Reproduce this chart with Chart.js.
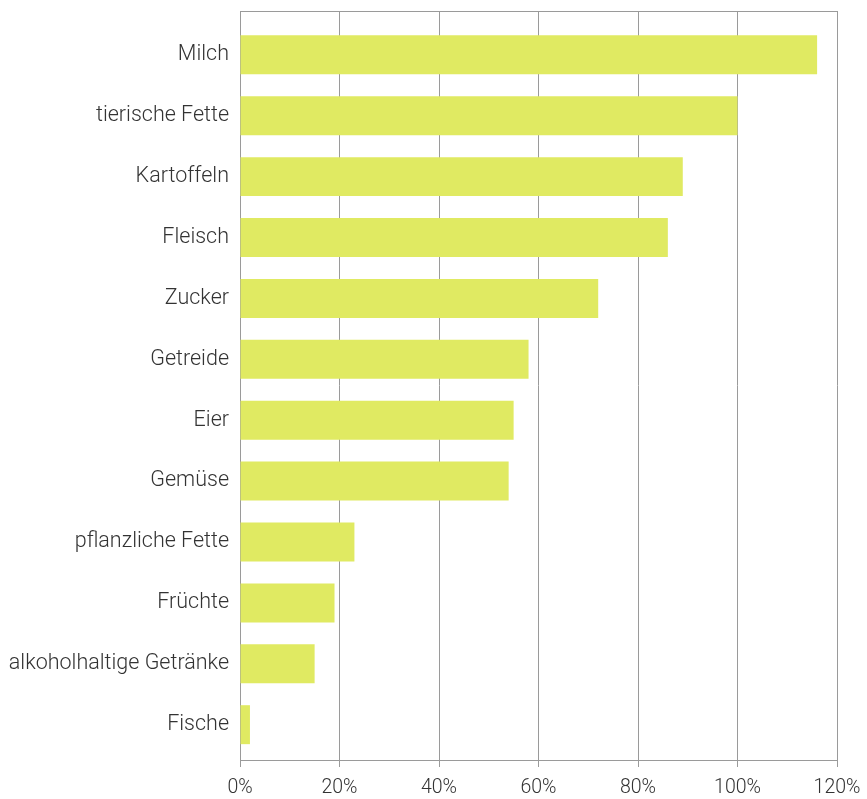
<!DOCTYPE html>
<html lang="de">
  <head>
    <meta charset="UTF-8" />
    <title>Selbstversorgungsgrad</title>
    <style>
      html, body { margin: 0; padding: 0; background: #fff; }
      #wrap { width: 867px; height: 799px; }
    </style>
    <script src="https://cdn.jsdelivr.net/npm/chart.js"></script>
  </head>
  <body>
    <div id="wrap"><canvas id="chart"></canvas></div>
    <script>
      // Kategorien und Werte (in Prozent)
      const categories = [
        "Milch", "tierische Fette", "Kartoffeln", "Fleisch", "Zucker", "Getreide",
        "Eier", "Gemüse", "pflanzliche Fette", "Früchte", "alkoholhaltige Getränke", "Fische"
      ];
      const values = [116, 100, 89, 86, 72, 58, 55, 54, 23, 19, 15, 2];
      const xTicks = [0, 20, 40, 60, 80, 100, 120];

      const gridColor = "#9a9a9a";
      const textColor = "#333333";

      // obere Rahmenlinie
      const topLine = {
        id: "topLine",
        afterDraw(chart) {
          const a = chart.chartArea;
          const c = chart.ctx;
          c.save();
          c.strokeStyle = gridColor;
          c.lineWidth = 1;
          c.beginPath();
          c.moveTo(a.left, a.top + 0.5);
          c.lineTo(a.right, a.top + 0.5);
          c.stroke();
          c.restore();
        },
      };

      // Kategorien als Index auf einer linearen Achse (oben etwas mehr Platz als unten)
      const points = values.map((v, i) => ({ x: v, y: i }));

      new Chart(document.getElementById("chart"), {
        type: "bar",
        data: {
          datasets: [{
            data: points,
            backgroundColor: "#e0ea62",
            borderWidth: 0,
            categoryPercentage: 1,
            barPercentage: 0.64,
          }],
        },
        options: {
          indexAxis: "y",
          responsive: true,
          maintainAspectRatio: false,
          animation: false,
          layout: { padding: { top: 11, right: 30, left: 0, bottom: 0 } },
          plugins: { legend: { display: false }, tooltip: { enabled: false } },
          scales: {
            x: {
              min: 0,
              max: 120,
              afterBuildTicks(axis) {
                axis.ticks = xTicks.map((v) => ({ value: v }));
              },
              afterFit(axis) {
                axis.height = 39;
                axis.paddingLeft = 0;
                axis.paddingRight = 0;
              },
              grid: { color: gridColor, lineWidth: 1, tickLength: 7 },
              border: { color: gridColor, width: 1 },
              ticks: {
                color: textColor,
                padding: 9,
                maxRotation: 0,
                font: { family: "Roboto", size: 19.5, weight: 300 },
                callback: (v) => v + "%",
              },
            },
            y: {
              type: "linear",
              reverse: true,
              offset: false,
              bounds: "data",
              grace: 0,
              min: -0.72,
              max: categories.length - 0.42,
              afterBuildTicks(axis) {
                axis.ticks = categories.map((c, i) => ({ value: i }));
              },
              afterFit(axis) {
                axis.width = 240;
                axis.paddingTop = 0;
                axis.paddingBottom = 0;
              },
              grid: { display: false, drawTicks: false, offset: false },
              border: { color: gridColor, width: 1 },
              ticks: {
                color: textColor,
                padding: 11,
                font: { family: "Roboto", size: 21.5, weight: 300 },
                callback: (v) => categories[v],
              },
            },
          },
        },
        plugins: [topLine],
      });
    </script>
  </body>
</html>
